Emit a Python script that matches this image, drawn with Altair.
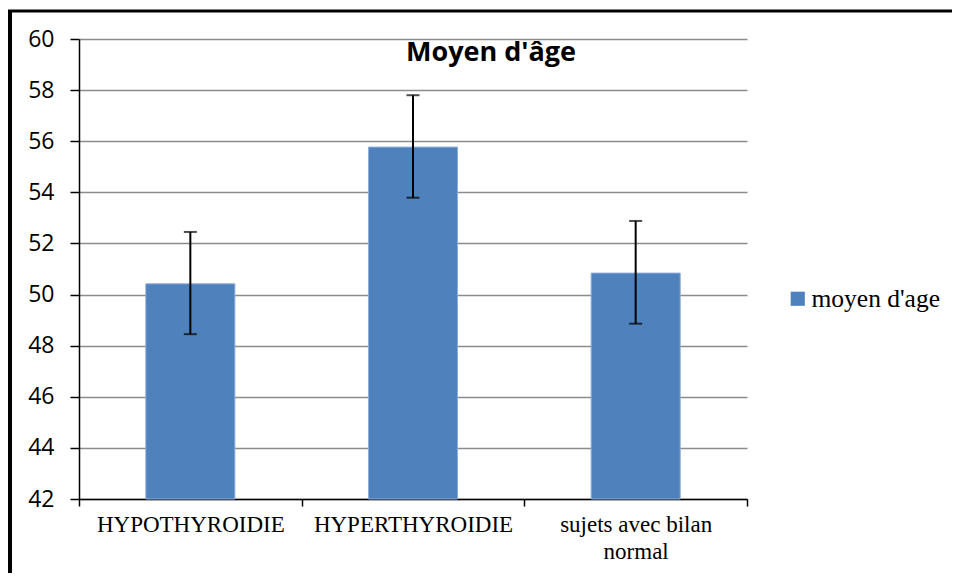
import altair as alt
import pandas as pd

categories = ["HYPOTHYROIDIE", "HYPERTHYROIDIE", "sujets avec bilan normal"]
means = [50.42, 55.77, 50.84]
err_low = [48.45, 53.79, 48.86]
err_high = [52.45, 57.80, 52.88]
series_name = "moyen d'age"
title_text = "Moyen d'âge"
y_ticks = [42, 44, 46, 48, 50, 52, 54, 56, 58, 60]

df = pd.DataFrame({
    "cat": categories,
    "mean": means,
    "lo": err_low,
    "hi": err_high,
    "series": [series_name] * len(categories),
})

label_expr = ("datum.label == 'sujets avec bilan normal' ? "
              "['sujets avec bilan', 'normal'] : datum.label")

x_enc = alt.X(
    "cat:N", sort=categories, title=None,
    scale=alt.Scale(paddingInner=0, paddingOuter=0),
    axis=alt.Axis(
        labelAngle=0, tickBand="extent", ticks=True, tickSize=7,
        tickColor="black", tickWidth=1.5, domainColor="black", domainWidth=1.5,
        labelFont="Liberation Serif", labelFontSize=23, labelColor="black",
        labelPadding=7, labelLineHeight=27, labelExpr=label_expr,
        grid=False, labelLimit=400,
    ),
)

y_scale = alt.Scale(domain=[42, 60], zero=False, nice=False)
y_axis = alt.Axis(
    values=y_ticks, title=None, tickSize=9, tickColor="black", tickWidth=1.5,
    domainColor="black", domainWidth=1.5,
    labelFont="Open Sans", labelFontSize=23, labelColor="black", labelPadding=16,
    grid=True, gridColor="#8c8c8c", gridWidth=1.5,
)

base = alt.Chart(df)

bars = base.mark_bar(
    width=alt.RelativeBandSize(0.4), stroke="#8FAEDA", strokeWidth=1
).encode(
    x=x_enc,
    y=alt.Y("mean:Q", scale=y_scale, axis=y_axis),
    y2=alt.datum(42),
    color=alt.Color(
        "series:N", scale=alt.Scale(range=["#4F81BD"]),
        legend=alt.Legend(
            title=None, orient="none", legendX=706, legendY=247,
            symbolType="square", symbolSize=200, symbolStrokeWidth=0,
            symbolOpacity=1, labelFont="Liberation Serif", labelFontSize=25.5,
            labelColor="black", labelOffset=1,
        ),
    ),
)

rules = base.mark_rule(color="black", strokeWidth=2).encode(
    x=alt.X("cat:N", sort=categories),
    y=alt.Y("lo:Q", scale=y_scale),
    y2="hi:Q",
)
caps_lo = base.mark_tick(color="black", size=13, thickness=2).encode(
    x=alt.X("cat:N", sort=categories), y=alt.Y("lo:Q", scale=y_scale)
)
caps_hi = base.mark_tick(color="black", size=13, thickness=2).encode(
    x=alt.X("cat:N", sort=categories), y=alt.Y("hi:Q", scale=y_scale)
)

title = alt.Chart(pd.DataFrame({"t": [title_text]})).mark_text(
    font="Open Sans", fontSize=27, fontWeight="bold", color="black",
    align="center", baseline="alphabetic",
).encode(x=alt.value(412), y=alt.value(22), text="t:N")

border_top = alt.Chart(pd.DataFrame({"a": [0]})).mark_rule(
    color="black", strokeWidth=3
).encode(x=alt.value(-71), x2=alt.value(900), y=alt.value(-28))
border_left = alt.Chart(pd.DataFrame({"a": [0]})).mark_rule(
    color="black", strokeWidth=4
).encode(x=alt.value(-69), y=alt.value(-29), y2=alt.value(540))

chart = alt.layer(bars, rules, caps_lo, caps_hi, title, border_top, border_left).properties(
    width=668, height=460,
    autosize=alt.AutoSizeParams(type="none"),
    padding={"left": 71, "top": 31, "right": 205, "bottom": 74},
).configure_view(stroke=None).resolve_scale(color="independent")

chart.save("out.html", embed_options={"renderer": "svg", "actions": False})
